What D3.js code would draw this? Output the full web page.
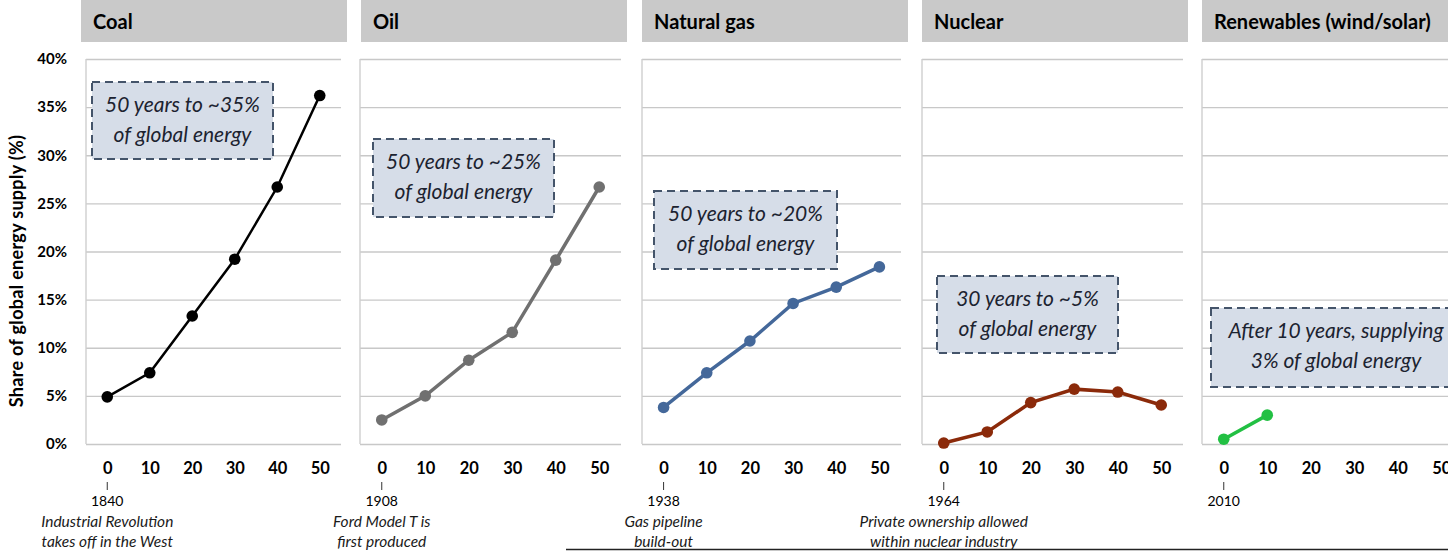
<!DOCTYPE html>
<html>
<head>
<meta charset="utf-8">
<script src="https://cdn.jsdelivr.net/npm/d3@7"></script>
<style>
  body { margin: 0; background: #fff; }
  svg { display: block; font-family: Lato, "Open Sans", sans-serif; }
</style>
</head>
<body>
<svg width="1448" height="551"></svg>
<script>
// Data
var years = [0, 10, 20, 30, 40, 50];
var sources = ["Coal", "Oil", "Natural gas", "Nuclear", "Renewables (wind/solar)"];
var startYears = ["1840", "1908", "1938", "1964", "2010"];
var coal = [4.9, 7.4, 13.3, 19.2, 26.7, 36.2];
var oil = [2.5, 5.0, 8.7, 11.6, 19.1, 26.7];
var gas = [3.8, 7.4, 10.7, 14.6, 16.3, 18.4];
var nuclear = [0.1, 1.25, 4.3, 5.7, 5.4, 4.05];
var renewables = [0.5, 3.0];
var yTicks = [0, 5, 10, 15, 20, 25, 30, 35, 40];
var notes = [
    ["Industrial Revolution", "takes off in the West"],
    ["Ford Model T is", "first produced"],
    ["Gas pipeline", "build-out"],
    ["Private ownership allowed", "within nuclear industry"],
    []
];
var boxTexts = [
    ["50 years to ~35%", "of global energy"],
    ["50 years to ~25%", "of global energy"],
    ["50 years to ~20%", "of global energy"],
    ["30 years to ~5%", "of global energy"],
    ["After 10 years, supplying", "3% of global energy"]
];

var series = [coal, oil, gas, nuclear, renewables];

// Layout
var colors = ["#000000", "#707070", "#44689a", "#8b2a0a", "#22c043"];
var lineWidths = [2.5, 3.5, 3.5, 3.5, 3.5];
var headerLeft = [81, 361, 642, 922, 1202];
var plotLeft = [86, 360, 642, 922, 1202];
var plotRight = [341, 621, 901, 1183, 1463];
var boxes = [
    { x: 92, y: 82, w: 181, h: 77 },
    { x: 373, y: 139, w: 181, h: 78 },
    { x: 654, y: 191, w: 183, h: 78 },
    { x: 937, y: 276, w: 181, h: 77 },
    { x: 1211, y: 308, w: 250, h: 79 }
];

var svg = d3.select("svg");
var y = d3.scaleLinear().domain([0, 40]).range([444, 59]);

// Y axis title
svg.append("text")
    .attr("transform", "translate(23,271) rotate(-90)")
    .attr("text-anchor", "middle")
    .style("font-size", "18px")
    .style("font-weight", "bold")
    .style("letter-spacing", "0.3px")
    .text("Share of global energy supply (%)");

// Y axis labels (coal panel only)
var yAxis = svg.append("g")
    .attr("transform", "translate(" + plotLeft[0] + ",0)")
    .call(d3.axisLeft(y).tickValues(yTicks).tickSize(0).tickPadding(19)
        .tickFormat(function(d) { return d + "%"; }));
yAxis.select(".domain").remove();
yAxis.selectAll("text")
    .style("font-family", "Lato, sans-serif")
    .style("font-size", "15px")
    .style("font-weight", "bold")
    .attr("fill", "#000");

sources.forEach(function(name, i) {
    var g = svg.append("g");
    var left = plotLeft[i], right = plotRight[i];
    var x = d3.scalePoint().domain(years).range([left, right]).padding(0.5);

    // Header
    g.append("rect")
        .attr("x", headerLeft[i]).attr("y", 0)
        .attr("width", 266).attr("height", 42)
        .attr("fill", "#c9c9c9");
    g.append("text")
        .attr("x", headerLeft[i] + 12).attr("y", 29)
        .style("font-size", "20px")
        .style("font-weight", "bold")
        .text(name);

    // Gridlines
    var grid = g.append("g")
        .attr("transform", "translate(" + left + ",0)")
        .call(d3.axisLeft(y).tickValues(yTicks).tickSize(-(right - left)).tickFormat(""));
    grid.select(".domain").remove();
    grid.selectAll("line").attr("stroke", "#c8c8c8").attr("stroke-width", 1.4);
    g.append("line")
        .attr("x1", left).attr("x2", left)
        .attr("y1", y(40)).attr("y2", y(0))
        .attr("stroke", "#cfcfcf").attr("stroke-width", 1.4);

    // X axis
    var xAxis = g.append("g")
        .attr("transform", "translate(0," + y(0) + ")")
        .call(d3.axisBottom(x).tickSize(0).tickPadding(18));
    xAxis.select(".domain").remove();
    xAxis.selectAll("text")
        .style("font-family", "Lato, sans-serif")
        .style("font-size", "16.5px")
        .style("font-weight", "bold")
        .attr("fill", "#000");

    // Start year marker
    var x0 = x(0);
    g.append("line")
        .attr("x1", x0).attr("x2", x0)
        .attr("y1", 482).attr("y2", 490)
        .attr("stroke", "#333").attr("stroke-width", 1);
    g.append("text")
        .attr("x", x0).attr("y", 506)
        .attr("text-anchor", "middle")
        .style("font-size", "14px")
        .text(startYears[i]);
    g.selectAll(".note").data(notes[i]).enter().append("text")
        .attr("x", x0)
        .attr("y", function(d, j) { return 527 + j * 20; })
        .attr("text-anchor", "middle")
        .style("font-size", "15.5px")
        .style("font-style", "italic")
        .attr("fill", "#1a1a1a")
        .text(function(d) { return d; });

    // Series line + dots
    var pts = series[i].map(function(v, j) { return { year: years[j], value: v }; });
    var line = d3.line()
        .x(function(d) { return x(d.year); })
        .y(function(d) { return y(d.value); });
    g.append("path")
        .datum(pts)
        .attr("d", line)
        .attr("fill", "none")
        .attr("stroke", colors[i])
        .attr("stroke-width", lineWidths[i]);
    g.selectAll("circle").data(pts).enter().append("circle")
        .attr("cx", function(d) { return x(d.year); })
        .attr("cy", function(d) { return y(d.value); })
        .attr("r", 5.8)
        .attr("fill", colors[i]);

    // Annotation box
    var b = boxes[i];
    g.append("rect")
        .attr("x", b.x).attr("y", b.y)
        .attr("width", b.w).attr("height", b.h)
        .attr("fill", "#d6dde8")
        .attr("stroke", "#44546a")
        .attr("stroke-width", 2)
        .attr("stroke-dasharray", "8,5");
    g.selectAll(".boxText").data(boxTexts[i]).enter().append("text")
        .attr("x", b.x + b.w / 2)
        .attr("y", function(d, j) { return b.y + 30 + j * 30; })
        .attr("text-anchor", "middle")
        .style("font-size", "21px")
        .style("font-style", "italic")
        .attr("fill", "#1c2330")
        .text(function(d) { return d; });
});

// Bottom rule
svg.append("line")
    .attr("x1", 566).attr("x2", 1448)
    .attr("y1", 549.5).attr("y2", 549.5)
    .attr("stroke", "#222").attr("stroke-width", 1.5);
</script>
</body>
</html>
